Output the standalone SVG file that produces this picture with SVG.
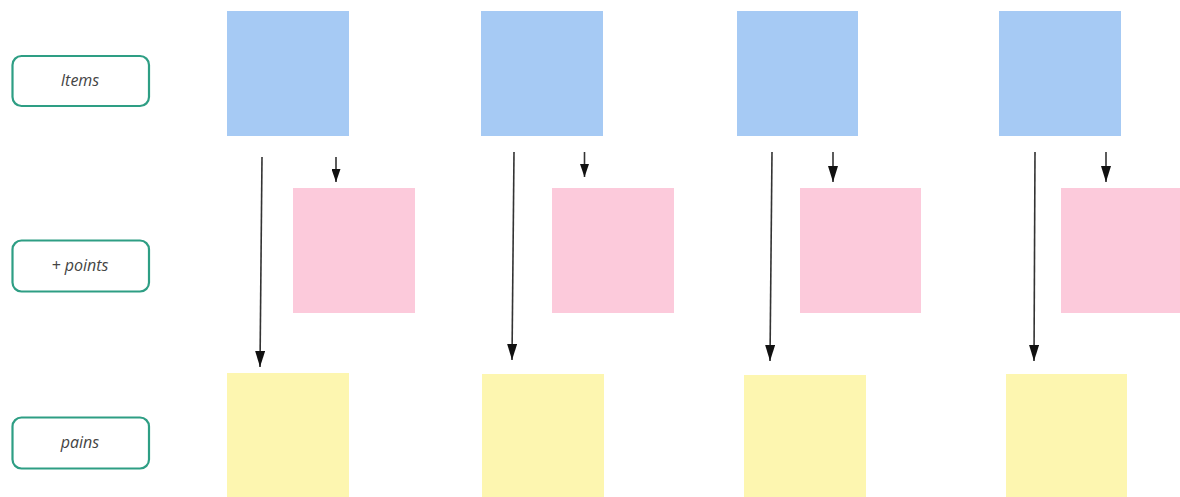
<svg xmlns="http://www.w3.org/2000/svg" width="1180" height="497" viewBox="0 0 1180 497">
<style>
.lbl rect{fill:#fff;stroke:#2e9e84;stroke-width:2.2}
.lbl text{font-family:"Open Sans","Noto Sans",sans-serif;font-style:italic;font-size:16px;fill:#444;text-anchor:middle;dominant-baseline:central}
.blue{fill:#a6caf4}
.pink{fill:#fccadb}
.yellow{fill:#fdf6b0}
.conn line{stroke:#333;stroke-width:1.6}
</style>
<defs>
<marker id="ah" viewBox="0 0 16 10" refX="16" refY="5" markerWidth="16" markerHeight="10" markerUnits="userSpaceOnUse" orient="auto">
<path d="M0,0 L16,5 L0,10 Z" fill="#111"/>
</marker>
<marker id="ahs" viewBox="0 0 13 9" refX="13" refY="4.5" markerWidth="13" markerHeight="9" markerUnits="userSpaceOnUse" orient="auto">
<path d="M0,0 L13,4.5 L0,9 Z" fill="#111"/>
</marker>
</defs>
<rect width="1180" height="497" fill="#fff"/>
<g id="label-items" class="lbl"><rect x="12.5" y="56" width="136.5" height="50" rx="9"/><text x="80" y="80">Items</text></g>
<g id="label-points" class="lbl"><rect x="12.5" y="240.5" width="136.5" height="51" rx="9"/><text x="80" y="265">+ points</text></g>
<g id="label-pains" class="lbl"><rect x="12.5" y="417.5" width="136.5" height="51" rx="9"/><text x="80" y="442">pains</text></g>

<g id="blue-1"><rect class="blue" x="227" y="11" width="122" height="125"/></g>
<g id="blue-2"><rect class="blue" x="481" y="11" width="122" height="125"/></g>
<g id="blue-3"><rect class="blue" x="737" y="11" width="121" height="125"/></g>
<g id="blue-4"><rect class="blue" x="999" y="11" width="122" height="125"/></g>

<g id="pink-1"><rect class="pink" x="293" y="188" width="122" height="125"/></g>
<g id="pink-2"><rect class="pink" x="552" y="188" width="122" height="125"/></g>
<g id="pink-3"><rect class="pink" x="800" y="188" width="121" height="125"/></g>
<g id="pink-4"><rect class="pink" x="1061" y="188" width="119" height="125"/></g>

<g id="yellow-1"><rect class="yellow" x="227" y="373" width="122" height="124"/></g>
<g id="yellow-2"><rect class="yellow" x="482" y="374" width="122" height="123"/></g>
<g id="yellow-3"><rect class="yellow" x="744" y="375" width="122" height="122"/></g>
<g id="yellow-4"><rect class="yellow" x="1006" y="374" width="121" height="123"/></g>

<g id="connectors" class="conn">
<line x1="262" y1="157" x2="260" y2="367" marker-end="url(#ah)"/>
<line x1="336" y1="157" x2="336" y2="182" marker-end="url(#ahs)"/>
<line x1="514" y1="152" x2="512" y2="360" marker-end="url(#ah)"/>
<line x1="584.5" y1="152" x2="584.5" y2="177" marker-end="url(#ahs)"/>
<line x1="772" y1="152" x2="770" y2="361" marker-end="url(#ah)"/>
<line x1="833" y1="152" x2="833" y2="182" marker-end="url(#ah)"/>
<line x1="1035" y1="152" x2="1034" y2="361" marker-end="url(#ah)"/>
<line x1="1106" y1="152" x2="1106" y2="182" marker-end="url(#ah)"/>
</g>
</svg>
